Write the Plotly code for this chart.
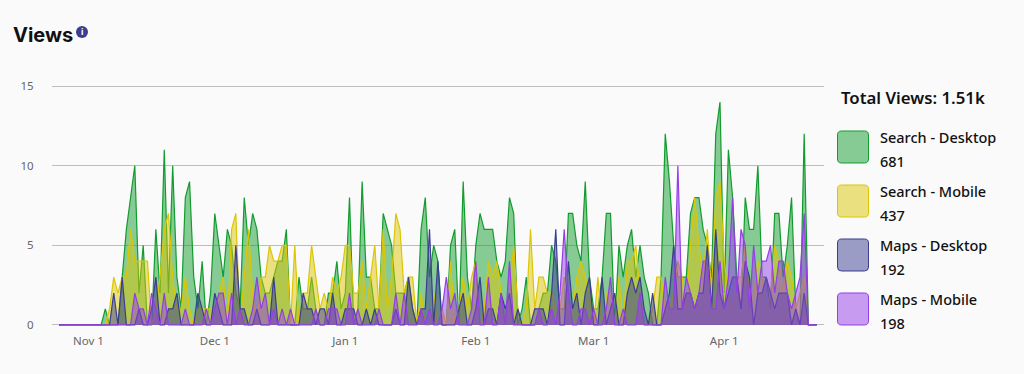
import pandas as pd
import plotly.graph_objects as go

W, H = 1024, 374
L, R, T, B = 52, 824, 85, 326

start_date = "2022-10-25"
x_range = ["2022-10-23 08:00", "2023-04-24 17:00"]
y_range = [-0.07, 15.07]

search_desktop = [
    0,0,0,0,0,0,0,0,0,0,
    0,1,0,0,0,3,6,8,10,2,
    5,0,0,6,2,11,2,10,3,1,
    8,9,3,1,4,0,2,7,5,3,
    6,5,2,1,8,5,7,6,3,2,
    2,3,4,4,6,0,0,3,1,1,
    3,1,0,0,2,2,4,1,2,8,
    0,1,9,3,3,1,1,7,6,5,
    2,2,2,3,1,0,6,8,3,5,
    4,0,0,5,6,0,9,3,1,5,
    7,6,6,6,4,3,4,8,7,0,
    1,3,0,0,1,2,2,5,4,1,
    1,7,7,5,4,9,3,1,1,3,
    7,7,0,5,3,5,6,3,5,3,
    2,0,0,3,12,9,5,3,3,3,
    7,8,8,6,5,3,12,14,2,11,
    8,3,1,8,6,6,10,3,3,1,
    7,7,3,5,8,1,0,12,0,0,0,
]
search_mobile = [
    0,0,0,0,0,0,0,0,0,0,
    0,0,1,3,2,3,3,6,4,4,
    4,4,0,1,3,6,7,3,1,1,
    3,1,0,1,1,1,1,1,2,3,
    0,6,7,0,3,6,2,0,3,3,
    5,4,4,5,5,0,5,0,2,2,
    5,3,1,2,1,3,2,3,5,5,
    2,2,4,1,3,5,1,6,1,3,
    7,6,2,3,3,0,2,0,0,2,
    0,1,0,4,0,1,3,1,3,4,
    0,1,4,3,4,2,0,2,5,1,
    0,1,6,1,3,3,2,2,1,1,
    3,1,1,3,4,3,2,0,3,0,
    2,2,0,3,0,4,4,5,2,0,
    0,1,3,3,1,1,2,4,3,1,
    5,8,5,3,6,2,8,9,4,2,
    1,3,3,5,2,2,4,3,1,2,
    5,4,2,4,3,1,2,3,0,0,0,
]
maps_desktop = [
    0,0,0,0,0,0,0,0,0,0,
    0,0,0,2,0,3,0,0,0,1,
    0,0,1,3,0,0,1,1,2,0,
    0,0,0,2,1,0,0,2,1,0,
    0,0,5,1,1,0,0,1,0,0,
    0,3,0,0,0,0,0,0,2,1,
    1,0,1,1,0,2,0,0,1,1,
    1,0,0,1,0,1,0,0,0,0,
    1,0,0,3,1,0,1,1,6,0,
    4,0,0,0,0,1,2,0,0,1,
    3,0,1,1,0,2,1,2,0,1,
    0,0,0,1,1,1,0,2,6,0,
    0,4,1,2,0,2,3,0,0,3,
    0,1,2,0,0,2,3,2,3,1,
    0,2,0,0,1,2,5,1,1,2,
    2,1,2,2,5,1,6,2,1,2,
    3,3,1,4,3,0,2,2,3,2,
    1,2,2,2,0,1,0,2,0,0,0,
]
maps_mobile = [
    0,0,0,0,0,0,0,0,0,0,
    0,0,0,0,0,0,0,0,2,1,
    1,0,2,1,0,2,0,0,0,0,
    1,0,0,0,0,1,0,1,2,2,
    0,2,0,1,0,0,1,3,1,2,
    0,1,0,1,0,1,0,0,0,0,
    0,1,0,0,1,1,1,0,0,2,
    0,1,0,0,0,0,1,0,0,0,
    2,0,2,0,0,0,1,0,1,0,
    0,1,3,1,2,0,0,0,1,4,
    0,0,3,0,0,2,0,4,0,0,
    0,0,0,0,1,0,0,1,0,2,
    6,2,0,0,1,1,0,1,0,0,
    1,3,0,0,1,0,0,0,2,0,
    0,0,0,0,3,1,1,10,1,3,
    2,1,2,4,4,1,1,4,1,3,
    8,2,6,5,1,5,2,4,4,5,
    2,4,4,2,1,2,3,7,0,0,0,
]

names = ["Search - Desktop", "Search - Mobile", "Maps - Desktop", "Maps - Mobile"]
totals = ["681", "437", "192", "198"]
line_colors = ["#129C2E", "#DCC604", "#3A3E90", "#943EE6"]
fill_colors = ["rgba(18,156,46,0.5)", "rgba(220,198,4,0.5)", "rgba(58,62,144,0.5)", "rgba(148,62,230,0.5)"]
series = [search_desktop, search_mobile, maps_desktop, maps_mobile]

tick_dates = ["2022-11-01", "2022-12-01", "2023-01-01", "2023-02-01", "2023-03-01", "2023-04-01"]
tick_labels = ["Nov 1", "Dec 1", "Jan 1", "Feb 1", "Mar 1", "Apr 1"]
y_ticks = [0, 5, 10, 15]

dates = pd.date_range(start_date, periods=len(search_desktop), freq="D")

fig = go.Figure()
for name, values, lc, fc in zip(names, series, line_colors, fill_colors):
    fig.add_trace(go.Scatter(
        x=dates, y=values, name=name, mode="lines",
        line=dict(color=lc, width=1.2), fill="tozeroy", fillcolor=fc,
    ))


def px(x):
    return (x - L) / (R - L)


def py(y):
    return 1 - (y - T) / (B - T)


def rounded(x0, y0, x1, y1, r):
    p = lambda x, y: f"{px(x):.5f},{py(y):.5f}"
    return (f"M{p(x0 + r, y0)} L{p(x1 - r, y0)} Q{p(x1, y0)} {p(x1, y0 + r)} "
            f"L{p(x1, y1 - r)} Q{p(x1, y1)} {p(x1 - r, y1)} "
            f"L{p(x0 + r, y1)} Q{p(x0, y1)} {p(x0, y1 - r)} "
            f"L{p(x0, y0 + r)} Q{p(x0, y0)} {p(x0 + r, y0)} Z")


LEGEND_FONT = "Noto Sans, Open Sans, sans-serif"
shapes = []
annotations = [
    dict(text="Views", x=px(13), y=py(35), xanchor="left", yanchor="middle",
         font=dict(family="Inter, sans-serif", size=20, color="#111111", weight=700)),
    dict(text="i", x=px(82), y=py(32), xanchor="center", yanchor="middle",
         font=dict(family="Inter, sans-serif", size=9, color="#ffffff", weight=700)),
    dict(text="Total Views: 1.51k", x=px(841), y=py(97), xanchor="left", yanchor="middle",
         font=dict(family=LEGEND_FONT, size=16.8, color="#111111", weight=600)),
]
shapes.append(dict(type="circle", xref="paper", yref="paper", x0=px(76), x1=px(88), y0=py(38), y1=py(26),
                   fillcolor="#3A3E90", line=dict(width=0)))
for i, (name, total, lc, fc) in enumerate(zip(names, totals, line_colors, fill_colors)):
    top = 131 + 54 * i
    shapes.append(dict(type="path", xref="paper", yref="paper", path=rounded(837.5, top, 868.5, top + 32, 4),
                       fillcolor=fc, line=dict(color=lc, width=1)))
    annotations.append(dict(text=name, x=px(880), y=py(top + 5.5), xanchor="left", yanchor="middle",
                            font=dict(family=LEGEND_FONT, size=14.5, color="#111111", weight=500)))
    annotations.append(dict(text=total, x=px(880), y=py(top + 29.5), xanchor="left", yanchor="middle",
                            font=dict(family=LEGEND_FONT, size=14.5, color="#111111", weight=500)))
for a in annotations:
    a.update(xref="paper", yref="paper", showarrow=False, align="left", xshift=0, yshift=0, borderpad=0, borderwidth=0)

fig.update_layout(
    width=W, height=H, autosize=False,
    margin=dict(l=L, r=W - R, t=T, b=H - B, pad=0),
    paper_bgcolor="#FAFAFA", plot_bgcolor="#FAFAFA",
    showlegend=False, shapes=shapes, annotations=annotations,
    font=dict(family="Noto Sans, sans-serif", size=11, color="#666666"),
    xaxis=dict(type="date", range=x_range, tickmode="array", tickvals=tick_dates, ticktext=tick_labels,
               showgrid=False, zeroline=False, showline=False, ticks="outside", ticklen=4, tickcolor="rgba(0,0,0,0)",
               tickfont=dict(size=11.5, color="#666666")),
    yaxis=dict(range=y_range, tickmode="array", tickvals=y_ticks, showgrid=True, gridcolor="#BDBDBD", gridwidth=1,
               zeroline=False, showline=False, ticks="outside", ticklen=15, tickcolor="rgba(0,0,0,0)",
               tickfont=dict(size=11.5, color="#666666")),
)

fig.write_html("out.html", config={"displayModeBar": False},
               post_script="document.body.style.margin='0';document.body.style.background='#FAFAFA';")
